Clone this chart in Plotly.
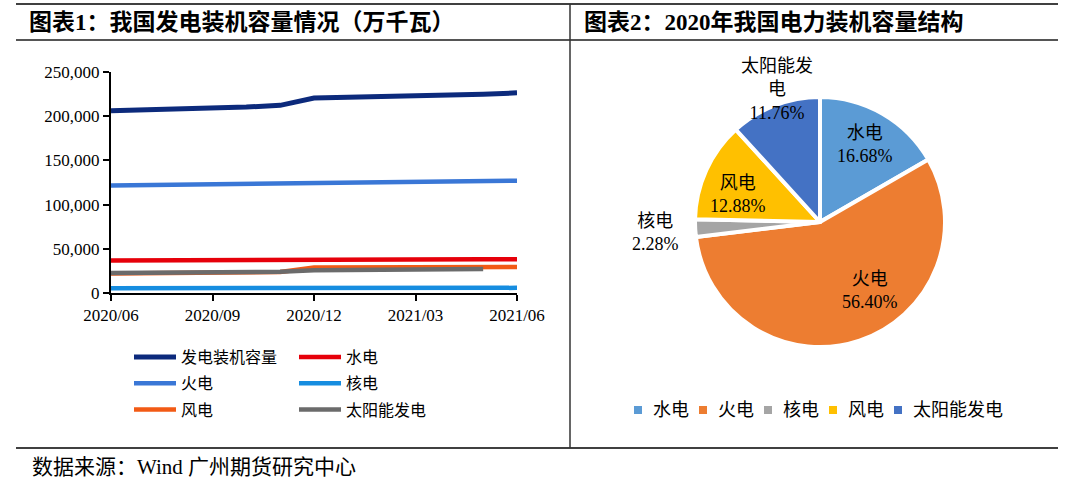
import plotly.graph_objects as go

# ---------------- data ----------------
months = ["2020/06", "2020/07", "2020/08", "2020/09", "2020/10", "2020/11", "2020/12",
          "2021/01", "2021/02", "2021/03", "2021/04", "2021/05", "2021/06"]
tick_months = ["2020/06", "2020/09", "2020/12", "2021/03", "2021/06"]

total = [206300, 207200, 208000, 208900, 210300, 212300, 220500, 221300, 222000, 222900, 223800, 224800, 226400]
thermal = [121600, 122000, 122400, 122800, 123200, 123700, 124900, 125300, 125700, 126000, 126300, 126700, 127000]
hydro = [36900, 36900, 37000, 37000, 37100, 37200, 37500, 37600, 37700, 37800, 37900, 38100, 38300]
nuclear = [5500, 5500, 5500, 5500, 5600, 5600, 5600, 5600, 5600, 5700, 5700, 5700, 5800]
wind = [22000, 22200, 22500, 22800, 23100, 23700, 28900, 29000, 29100, 29200, 29300, 29400, 29500]
solar = [22600, 22800, 23000, 23200, 23500, 23900, 25800, 26000, 26300, 26500, 26800, 27100, None]

y_ticks = [0, 50000, 100000, 150000, 200000, 250000]

pie_labels = ["水电", "火电", "核电", "风电", "太阳能发电"]
pie_values = [16.68, 56.40, 2.28, 12.88, 11.76]
pie_label_text = ["水电<br>16.68%", "火电<br>56.40%", "核电<br>2.28%", "风电<br>12.88%", "太阳能发<br>电<br>11.76%"]

# ---------------- helpers ----------------
W, H = 1080, 486
def px(x):
    return x / W
def py(y):
    return 1 - y / H

FONT = "Liberation Serif, Noto Sans CJK SC"

fig = go.Figure()

series = [
    ("发电装机容量", total, "#0c2a7c", 5, "legend"),
    ("水电", hydro, "#e6000a", 4.5, "legend2"),
    ("火电", thermal, "#3a77d6", 4.5, "legend"),
    ("核电", nuclear, "#168de0", 4.5, "legend2"),
    ("风电", wind, "#f25a15", 4.5, "legend"),
    ("太阳能发电", solar, "#6b6b6b", 4.5, "legend2"),
]
for name, vals, color, lw, lg in series:
    fig.add_trace(go.Scatter(
        x=months, y=vals, name=name, mode="lines",
        line=dict(color=color, width=lw),
        legend=lg, legendgroup=name, showlegend=True,
        xaxis="x", yaxis="y", hoverinfo="skip",
    ))

pie_colors = ["#5b9bd5", "#ed7d31", "#a5a5a5", "#ffc000", "#4472c4"]
fig.add_trace(go.Pie(
    labels=pie_labels, values=pie_values, sort=False, direction="clockwise", rotation=0,
    marker=dict(colors=pie_colors, line=dict(color="white", width=4)),
    textinfo="none", hoverinfo="skip",
    domain=dict(x=[px(695), px(945)], y=[py(347), py(97)]),
    showlegend=False,
))

# pie labels (annotations)
label_pos = [(865, 145), (870, 290), (655, 232), (738, 194), (777, 90)]
annotations = []
for txt, (lx, ly) in zip(pie_label_text, label_pos):
    annotations.append(dict(x=px(lx), y=py(ly), xref="paper", yref="paper", text=txt,
                            showarrow=False, xanchor="center", yanchor="middle",
                            font=dict(family=FONT, size=18, color="black")))

shapes = [
    dict(type="line", xref="paper", yref="paper", x0=px(16), x1=px(1058), y0=py(4), y1=py(4),
         line=dict(color="black", width=1.5)),
    dict(type="line", xref="paper", yref="paper", x0=px(16), x1=px(1058), y0=py(40), y1=py(40),
         line=dict(color="#555555", width=2)),
    dict(type="line", xref="paper", yref="paper", x0=px(16), x1=px(1058), y0=py(448), y1=py(448),
         line=dict(color="black", width=1.5)),
    dict(type="line", xref="paper", yref="paper", x0=px(570), x1=px(570), y0=py(4), y1=py(448),
         line=dict(color="#333333", width=1.5)),
]

# pie legend (manual, horizontal row)
LEG_X0, LEG_PITCH, LEG_Y, SQ = 638, 65, 410, 8
for i, (lab, col) in enumerate(zip(pie_labels, pie_colors)):
    cx = LEG_X0 + i * LEG_PITCH
    shapes.append(dict(type="rect", xref="paper", yref="paper",
                       x0=px(cx - SQ / 2), x1=px(cx + SQ / 2), y0=py(LEG_Y + SQ / 2), y1=py(LEG_Y - SQ / 2),
                       fillcolor=col, line=dict(width=0)))
    annotations.append(dict(x=px(cx + 13), y=py(LEG_Y), xref="paper", yref="paper", text=lab,
                            showarrow=False, xanchor="left", yanchor="middle",
                            font=dict(family=FONT, size=18, color="black")))

# titles and footer
annotations.append(dict(x=px(27), y=py(22), xref="paper", yref="paper",
                        text="<b>图表1：我国发电装机容量情况（万千瓦）</b>", showarrow=False,
                        xanchor="left", yanchor="middle",
                        font=dict(family=FONT, size=23, color="black")))
annotations.append(dict(x=px(582), y=py(22), xref="paper", yref="paper",
                        text="<b>图表2：2020年我国电力装机容量结构</b>", showarrow=False,
                        xanchor="left", yanchor="middle",
                        font=dict(family=FONT, size=23, color="black")))
annotations.append(dict(x=px(30), y=py(467), xref="paper", yref="paper",
                        text="数据来源：Wind 广州期货研究中心", showarrow=False,
                        xanchor="left", yanchor="middle",
                        font=dict(family=FONT, size=21, color="black")))

fig.update_layout(
    width=W, height=H, margin=dict(l=0, r=0, t=0, b=0, autoexpand=False),
    paper_bgcolor="white", plot_bgcolor="white",
    showlegend=True,
    xaxis=dict(domain=[px(111), px(517)], type="category", range=[0, 12],
               tickmode="array", tickvals=tick_months, ticktext=tick_months,
               showgrid=False, zeroline=False, showline=True, linecolor="black", linewidth=2,
               ticks="outside", ticklen=6, tickwidth=2, tickcolor="black", automargin=False,
               tickfont=dict(family=FONT, size=17, color="black")),
    yaxis=dict(domain=[py(293), py(72)], range=[0, 250000],
               tickmode="array", tickvals=y_ticks, tickformat=",d",
               showgrid=False, zeroline=False, showline=True, linecolor="black", linewidth=2,
               ticks="outside", ticklen=6, tickwidth=2, tickcolor="black", automargin=False,
               tickfont=dict(family=FONT, size=17, color="black")),
    legend=dict(x=px(129), y=py(340), xanchor="left", yanchor="top",
                orientation="v", tracegroupgap=2.5, itemwidth=42, bgcolor="rgba(0,0,0,0)",
                font=dict(family=FONT, size=16, color="black")),
    legend2=dict(x=px(294), y=py(340), xanchor="left", yanchor="top",
                 orientation="v", tracegroupgap=2.5, itemwidth=42, bgcolor="rgba(0,0,0,0)",
                 font=dict(family=FONT, size=16, color="black")),
    annotations=annotations,
    shapes=shapes,
)

fig.write_html("out.html", post_script="document.body.style.margin='0px';",
               config={"displayModeBar": False})
